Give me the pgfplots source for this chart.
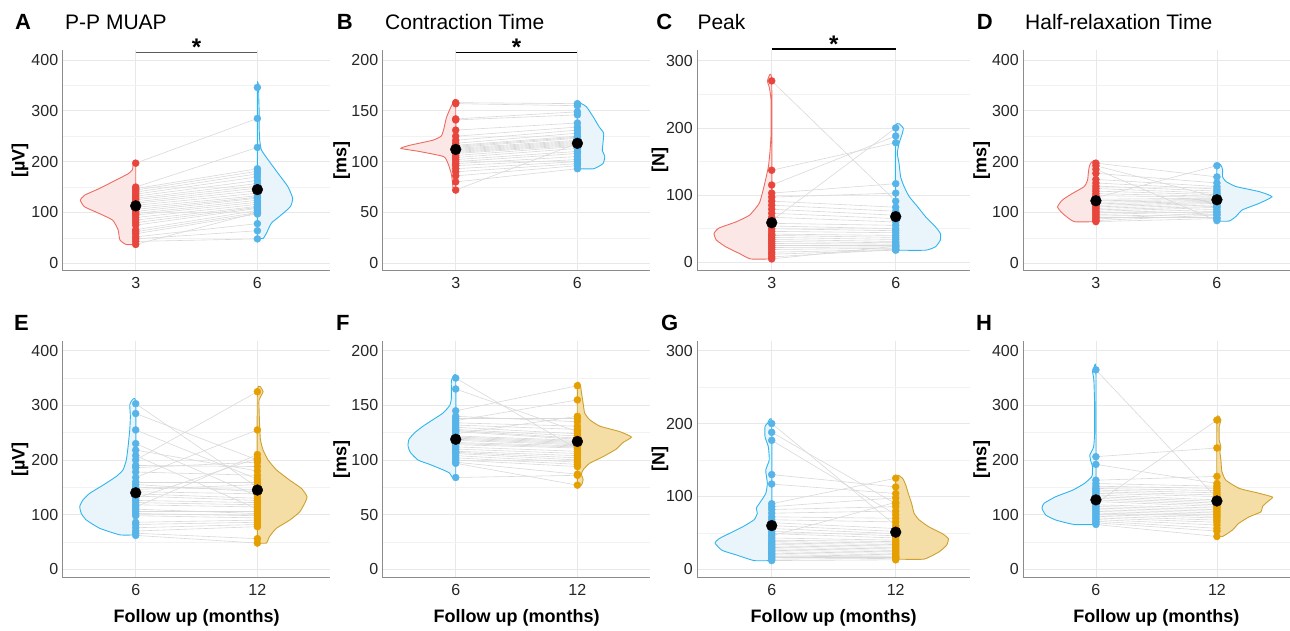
\documentclass[border=0pt]{standalone}
\usepackage{fontspec}
\setmainfont{Liberation Sans}
\usepackage{pgfplots}
\pgfplotsset{compat=1.18}
\usepackage{pgfplotstable}

\definecolor{cred}{HTML}{E8453C}
\definecolor{cblue}{HTML}{56B4E9}
\definecolor{corange}{HTML}{E69F00}
\definecolor{redline}{HTML}{EE6B61}
\definecolor{blueline}{HTML}{2FB5EE}
\definecolor{orangeline}{HTML}{CDA12E}
\definecolor{redfill}{HTML}{FBE8E6}
\definecolor{bluefill}{HTML}{EAF4FB}
\definecolor{orangefill}{HTML}{F5DDA6}

\newcommand\tickf{\fontsize{16}{18}\selectfont}
\newcommand\labf{\bfseries\fontsize{18}{20}\selectfont}
\newcommand\ttlf{\fontsize{21}{24}\selectfont}
\newcommand\letf{\bfseries\fontsize{22}{24}\selectfont}

\tikzset{
 pletter/.style={anchor=base west, font=\letf, inner sep=0pt},
 pttl/.style={anchor=base west, font=\ttlf, inner sep=0pt},
 sigstar/.style={anchor=base, font=\bfseries\fontsize{24}{24}\selectfont, inner sep=0pt},
}

\pgfplotsset{
 panel/.style={
  scale only axis, clip=false, enlargelimits=false,
  xmin=0.4, xmax=2.6, xtick={1,2},
  axis x line*=bottom, axis y line*=left,
  axis line style={-, draw=black!45, line width=0.8pt},
  major tick length=0pt, minor tick length=0pt,
  grid=both, minor y tick num=1,
  major grid style={draw=black!9, line width=0.7pt},
  minor grid style={draw=black!5, line width=0.6pt},
  tick label style={font=\tickf, text=black!85},
  /pgf/number format/assume math mode=true,
  yticklabel style={xshift=-1pt},
  xticklabel style={yshift=-3pt},
  ylabel style={anchor=center, font=\labf},
  xlabel style={at={(axis description cs:0.5,-0.1675)}, anchor=center, font=\labf},
 },
 toprow/.style={height=220.7pt},
 botrow/.style={height=237pt},
 vred/.style={draw=redline, fill=redfill, line width=0.9pt, smooth, tension=0.3},
 vblue/.style={draw=blueline, fill=bluefill, line width=0.9pt, smooth, tension=0.3},
 vorange/.style={draw=orangeline, fill=orangefill, line width=0.9pt, smooth, tension=0.3},
 pairline/.style={draw=black!15, line width=0.6pt, -},
 pred/.style={only marks, mark=*, mark size=3.5pt, cred, mark options={draw=cred, fill=cred}},
 pblue/.style={only marks, mark=*, mark size=3.5pt, cblue, mark options={draw=cblue, fill=cblue}},
 porange/.style={only marks, mark=*, mark size=3.5pt, corange, mark options={draw=corange, fill=corange}},
 meanpt/.style={only marks, black, mark=*, mark size=5.4pt, error bars/.cd, y dir=both, y explicit, error bar style={line width=2pt, black}, error mark=none},
}

% paired data: a = first follow up, b = second follow up
\pgfplotstableread[row sep=\\]{a b\\
197 285\\ 150 228\\ 147 186\\ 144 181\\ 140 176\\ 136 170\\ 132 163\\ 128 157\\ 125 152\\ 121 148\\
118 143\\ 114 138\\ 110 133\\ 106 130\\ 102 128\\ 98 124\\ 95 120\\ 90 116\\ 85 112\\ 80 110\\
75 108\\ 66 104\\ 62 100\\ 58 97\\ 52 78\\ 48 64\\ 43 48\\ 37 100\\}\tA
\pgfplotstableread[row sep=\\]{a b\\
158 157\\ 157 155\\ 142 149\\ 141 146\\ 131 138\\ 125 134\\ 121 131\\ 118 128\\ 116 125\\ 115 124\\
114 123\\ 113 121\\ 112 120\\ 111 119\\ 110 118\\ 109 117\\ 108 116\\ 106 115\\ 104 113\\ 102 110\\
100 108\\ 98 105\\ 96 102\\ 93 100\\ 90 98\\ 86 96\\ 80 93\\ 72 118\\}\tB
\pgfplotstableread[row sep=\\]{a b\\
270 91\\ 137 178\\ 115 188\\ 103 117\\ 97 103\\ 91 82\\ 85 76\\ 79 70\\ 73 65\\ 67 60\\
62 200\\ 58 55\\ 54 50\\ 50 47\\ 46 44\\ 42 40\\ 40 37\\ 37 34\\ 34 31\\ 31 29\\
28 27\\ 25 25\\ 22 23\\ 19 21\\ 15 19\\ 12 18\\ 8 19\\ 5 24\\}\tC
\pgfplotstableread[row sep=\\]{a b\\
197 170\\ 192 130\\ 185 84\\ 177 158\\ 165 151\\ 158 146\\ 152 142\\ 147 138\\ 142 135\\ 137 132\\
133 130\\ 129 192\\ 126 128\\ 123 126\\ 120 124\\ 117 122\\ 114 120\\ 111 118\\ 108 115\\ 105 112\\
102 110\\ 99 106\\ 96 102\\ 93 96\\ 90 90\\ 87 100\\ 84 95\\ 82 88\\}\tD
\pgfplotstableread[row sep=\\]{a b\\
303 150\\ 285 200\\ 255 165\\ 230 134\\ 218 180\\ 208 110\\ 200 325\\ 190 188\\ 186 196\\ 178 172\\
168 255\\ 160 160\\ 155 142\\ 150 146\\ 146 155\\ 142 138\\ 138 130\\ 134 126\\ 130 203\\ 126 122\\
122 118\\ 118 114\\ 114 210\\ 110 102\\ 106 106\\ 102 98\\ 98 94\\ 86 90\\ 82 86\\ 76 82\\
70 78\\ 66 56\\ 62 48\\}\tE
\pgfplotstableread[row sep=\\]{a b\\
175 110\\ 165 126\\ 145 168\\ 138 138\\ 136 155\\ 134 131\\ 132 128\\ 130 124\\ 128 122\\ 127 120\\
126 119\\ 124 140\\ 122 118\\ 121 117\\ 120 116\\ 119 115\\ 118 114\\ 116 113\\ 115 112\\ 114 111\\
112 108\\ 110 106\\ 108 104\\ 107 102\\ 106 100\\ 104 98\\ 102 96\\ 100 94\\ 98 87\\ 97 77\\
84 86\\ 140 135\\}\tF
\pgfplotstableread[row sep=\\]{a b\\
200 60\\ 188 90\\ 177 75\\ 130 113\\ 117 104\\ 90 125\\ 86 98\\ 82 86\\ 77 80\\ 72 70\\
68 65\\ 64 56\\ 60 52\\ 56 49\\ 52 46\\ 49 43\\ 46 92\\ 43 40\\ 40 38\\ 38 36\\
36 34\\ 34 32\\ 32 30\\ 30 28\\ 28 26\\ 26 24\\ 24 22\\ 22 20\\ 20 18\\ 18 17\\
16 16\\ 14 15\\ 12 13\\}\tG
\pgfplotstableread[row sep=\\]{a b\\
365 130\\ 206 222\\ 192 157\\ 163 170\\ 157 152\\ 152 148\\ 148 144\\ 145 140\\ 142 136\\ 139 133\\
136 127\\ 133 124\\ 130 121\\ 127 118\\ 124 115\\ 121 273\\ 118 112\\ 115 109\\ 112 106\\ 109 103\\
106 100\\ 103 97\\ 100 94\\ 97 90\\ 94 86\\ 91 81\\ 88 75\\ 85 70\\ 82 60\\}\tH

\begin{document}
\begin{tikzpicture}
\useasboundingbox (0,0) rectangle (1290pt,631pt);

% ---------------- A ----------------
\begin{axis}[panel, toprow, width=267.7pt, at={(62.7pt,360.3pt)}, anchor=south west,
  ymin=-14.6, ymax=419.7, ytick={0,100,200,300,400}, xticklabels={3,6},
  ylabel={[µV]}, ylabel style={at={(axis description cs:-0.16,0.5)}}]
\addplot[vred] table[row sep=\\, x expr=1-\thisrow{w}, y=v] {v w\\
37 0\\ 37 0.08\\ 46 0.13\\ 66 0.145\\ 85 0.19\\ 98 0.30\\ 111 0.42\\ 124 0.455\\ 134 0.42\\ 147 0.30\\
164 0.16\\ 176 0.063\\ 184 0.027\\ 197 0.02\\ 197 0\\ 37 0\\};
\addplot[vblue] table[row sep=\\, x expr=2+\thisrow{w}, y=v] {v w\\
49 0\\ 49 0.047\\ 59 0.074\\ 79 0.115\\ 92 0.18\\ 111 0.27\\ 128 0.29\\ 151 0.25\\ 177 0.17\\ 203 0.09\\
223 0.033\\ 243 0.019\\ 269 0.014\\ 302 0.014\\ 328 0.011\\ 346 0.01\\ 346 0\\ 49 0\\};
\addplot[pairline, quiver={u=1, v=\thisrow{b}-\thisrow{a}}] table[x expr=1, y=a] {\tA};
\addplot[pred] table[x expr=1, y=a] {\tA};
\addplot[pblue] table[x expr=2, y=b] {\tA};
\addplot[pblue] coordinates {(2,346)};
\addplot[meanpt] coordinates {(1,113) +- (0,14)};
\addplot[meanpt] coordinates {(2,145) +- (0,18)};
\addplot[draw=black!65, line width=1.1pt] coordinates {(1,415) (2,415)};
\node[sigstar] at (axis cs:1.5,408) {*};
\node[pletter] at (axis description cs:-0.178,1.0906) {A};
\node[pttl] at (axis description cs:0.0086,1.0906) {P-P MUAP};
\end{axis}

% ---------------- B ----------------
\begin{axis}[panel, toprow, width=267.7pt, at={(382.7pt,360.3pt)}, anchor=south west,
  ymin=-7.3, ymax=209.8, ytick={0,50,100,150,200}, xticklabels={3,6},
  ylabel={[ms]}, ylabel style={at={(axis description cs:-0.153,0.5)}}]
\addplot[vred] table[row sep=\\, x expr=1-\thisrow{w}, y=v] {v w\\
72 0\\ 72 0.02\\ 80 0.027\\ 88 0.036\\ 98 0.063\\ 105 0.10\\ 110 0.30\\ 113 0.45\\ 116 0.38\\ 121 0.19\\
125 0.12\\ 131 0.10\\ 143 0.077\\ 151 0.05\\ 158 0.02\\ 158 0\\ 72 0\\};
\addplot[vblue] table[row sep=\\, x expr=2+\thisrow{w}, y=v] {v w\\
93 0\\ 93 0.134\\ 98 0.21\\ 105 0.225\\ 111 0.205\\ 118 0.21\\ 128 0.216\\ 134 0.18\\ 144 0.13\\ 154 0.074\\
157 0.033\\ 157 0\\ 93 0\\};
\addplot[pairline, quiver={u=1, v=\thisrow{b}-\thisrow{a}}] table[x expr=1, y=a] {\tB};
\addplot[pred] table[x expr=1, y=a] {\tB};
\addplot[pblue] table[x expr=2, y=b] {\tB};
\addplot[meanpt] coordinates {(1,112) +- (0,6)};
\addplot[meanpt] coordinates {(2,118) +- (0,5)};
\addplot[draw=black, line width=1.1pt] coordinates {(1,207.6) (2,207.6)};
\node[sigstar] at (axis cs:1.5,204) {*};
\node[pletter] at (axis description cs:-0.172,1.0906) {B};
\node[pttl] at (axis description cs:0.0086,1.0906) {Contraction Time};
\end{axis}

% ---------------- C ----------------
\begin{axis}[panel, toprow, width=272.8pt, at={(697.3pt,360.3pt)}, anchor=south west,
  ymin=-12.5, ymax=316, ytick={0,100,200,300}, xticklabels={3,6},
  ylabel={[N]}, ylabel style={at={(axis description cs:-0.137,0.5)}}]
\addplot[vred] table[row sep=\\, x expr=1-\thisrow{w}, y=v] {v w\\
5 0\\ 5 0.17\\ 13 0.26\\ 23 0.37\\ 33 0.446\\ 43 0.465\\ 51 0.425\\ 60 0.29\\ 70 0.18\\ 88 0.10\\
113 0.062\\ 142 0.027\\ 167 0.013\\ 192 0.005\\ 241 0.005\\ 261 0.02\\ 270 0.035\\ 270 0\\ 5 0\\};
\addplot[vblue] table[row sep=\\, x expr=2+\thisrow{w}, y=v] {v w\\
18 0\\ 18 0.24\\ 23 0.32\\ 33 0.36\\ 43 0.36\\ 53 0.32\\ 68 0.24\\ 83 0.175\\ 98 0.108\\ 113 0.067\\
127 0.04\\ 147 0.027\\ 162 0.013\\ 177 0.027\\ 192 0.054\\ 200 0.06\\ 200 0\\ 18 0\\};
\addplot[pairline, quiver={u=1, v=\thisrow{b}-\thisrow{a}}] table[x expr=1, y=a] {\tC};
\addplot[pred] table[x expr=1, y=a] {\tC};
\addplot[pblue] table[x expr=2, y=b] {\tC};
\addplot[meanpt] coordinates {(1,59) +- (0,19)};
\addplot[meanpt] coordinates {(2,68) +- (0,18)};
\addplot[draw=black, line width=1.1pt] coordinates {(1,317.4) (2,317.4)};
\node[sigstar] at (axis cs:1.5,312.5) {*};
\node[pletter] at (axis description cs:-0.151,1.0906) {C};
\node[pttl] at (axis description cs:0,1.0906) {Peak};
\end{axis}

% ---------------- D ----------------
\begin{axis}[panel, toprow, width=266.2pt, at={(1023.3pt,360.3pt)}, anchor=south west,
  ymin=-14.6, ymax=419.7, ytick={0,100,200,300,400}, xticklabels={3,6},
  ylabel={[ms]}, ylabel style={at={(axis description cs:-0.156,0.5)}}]
\addplot[vred] table[row sep=\\, x expr=1-\thisrow{w}, y=v] {v w\\
82 0\\ 82 0.18\\ 98 0.275\\ 111 0.317\\ 125 0.275\\ 138 0.19\\ 151 0.096\\ 164 0.069\\ 177 0.063\\ 190 0.055\\
198 0.04\\ 198 0\\ 82 0\\};
\addplot[vblue] table[row sep=\\, x expr=2+\thisrow{w}, y=v] {v w\\
83 0\\ 83 0.10\\ 92 0.157\\ 105 0.21\\ 118 0.35\\ 131 0.455\\ 141 0.35\\ 151 0.157\\ 161 0.074\\ 170 0.047\\
184 0.047\\ 193 0.033\\ 193 0\\ 83 0\\};
\addplot[pairline, quiver={u=1, v=\thisrow{b}-\thisrow{a}}] table[x expr=1, y=a] {\tD};
\addplot[pred] table[x expr=1, y=a] {\tD};
\addplot[pblue] table[x expr=2, y=b] {\tD};
\addplot[meanpt] coordinates {(1,123) +- (0,7)};
\addplot[meanpt] coordinates {(2,125) +- (0,7)};
\node[pletter] at (axis description cs:-0.175,1.0906) {D};
\node[pttl] at (axis description cs:0.0064,1.0906) {Half-relaxation Time};
\end{axis}

% ---------------- E ----------------
\begin{axis}[panel, botrow, width=267.7pt, at={(62.7pt,53.3pt)}, anchor=south west,
  ymin=-15.4, ymax=418.3, ytick={0,100,200,300,400}, xticklabels={6,12},
  xlabel={Follow up (months)},
  ylabel={[µV]}, ylabel style={at={(axis description cs:-0.16,0.5)}}]
\addplot[vblue] table[row sep=\\, x expr=1-\thisrow{w}, y=v] {v w\\
63 0\\ 63 0.13\\ 75 0.296\\ 90 0.405\\ 102 0.447\\ 115 0.46\\ 127 0.433\\ 139 0.378\\ 154 0.268\\ 170 0.159\\
182 0.104\\ 200 0.077\\ 224 0.063\\ 255 0.049\\ 279 0.044\\ 300 0.049\\ 304 0.045\\ 304 0\\ 63 0\\};
\addplot[vorange] table[row sep=\\, x expr=2+\thisrow{w}, y=v] {v w\\
48 0\\ 48 0.074\\ 60 0.10\\ 75 0.156\\ 90 0.266\\ 105 0.348\\ 121 0.389\\ 133 0.408\\ 148 0.362\\ 163 0.266\\
182 0.156\\ 200 0.088\\ 218 0.047\\ 237 0.025\\ 261 0.019\\ 291 0.014\\ 310 0.014\\ 325 0.047\\ 325 0\\ 48 0\\};
\addplot[pairline, quiver={u=1, v=\thisrow{b}-\thisrow{a}}] table[x expr=1, y=a] {\tE};
\addplot[pblue] table[x expr=1, y=a] {\tE};
\addplot[porange] table[x expr=2, y=b] {\tE};
\addplot[meanpt] coordinates {(1,140) +- (0,14)};
\addplot[meanpt] coordinates {(2,145) +- (0,17)};
\node[pletter] at (axis description cs:-0.182,1.045) {E};
\end{axis}

% ---------------- F ----------------
\begin{axis}[panel, botrow, width=267.7pt, at={(382.7pt,53.3pt)}, anchor=south west,
  ymin=-7.7, ymax=209.2, ytick={0,50,100,150,200}, xticklabels={6,12},
  xlabel={Follow up (months)},
  ylabel={[ms]}, ylabel style={at={(axis description cs:-0.153,0.5)}}]
\addplot[vblue] table[row sep=\\, x expr=1-\thisrow{w}, y=v] {v w\\
84 0\\ 84 0.027\\ 88 0.05\\ 91 0.104\\ 96 0.214\\ 100 0.31\\ 107 0.373\\ 113 0.392\\ 119 0.384\\ 125 0.337\\
131 0.268\\ 137 0.186\\ 143 0.104\\ 150 0.049\\ 156 0.036\\ 165 0.036\\ 172 0.036\\ 175 0.027\\ 175 0\\ 84 0\\};
\addplot[vorange] table[row sep=\\, x expr=2+\thisrow{w}, y=v] {v w\\
77 0\\ 77 0.033\\ 82 0.047\\ 87 0.033\\ 91 0.047\\ 97 0.10\\ 103 0.21\\ 110 0.32\\ 116 0.375\\ 121 0.444\\
126 0.348\\ 131 0.184\\ 137 0.10\\ 143 0.06\\ 152 0.047\\ 162 0.033\\ 168 0.025\\ 168 0\\ 77 0\\};
\addplot[pairline, quiver={u=1, v=\thisrow{b}-\thisrow{a}}] table[x expr=1, y=a] {\tF};
\addplot[pblue] table[x expr=1, y=a] {\tF};
\addplot[porange] table[x expr=2, y=b] {\tF};
\addplot[meanpt] coordinates {(1,119) +- (0,5)};
\addplot[meanpt] coordinates {(2,117) +- (0,5)};
\node[pletter] at (axis description cs:-0.175,1.045) {F};
\end{axis}

% ---------------- G ----------------
\begin{axis}[panel, botrow, width=272.8pt, at={(697.3pt,53.3pt)}, anchor=south west,
  ymin=-11.5, ymax=313.7, ytick={0,100,200,300}, xticklabels={6,12},
  xlabel={Follow up (months)},
  ylabel={[N]}, ylabel style={at={(axis description cs:-0.137,0.5)}}]
\addplot[vblue] table[row sep=\\, x expr=1-\thisrow{w}, y=v] {v w\\
12 0\\ 12 0.142\\ 20 0.29\\ 26 0.40\\ 36 0.457\\ 42 0.425\\ 49 0.344\\ 58 0.237\\ 68 0.142\\ 77 0.116\\
84 0.124\\ 93 0.089\\ 104 0.048\\ 118 0.035\\ 136 0.048\\ 150 0.02\\ 168 0.027\\ 182 0.054\\ 196 0.054\\ 200 0.035\\
200 0\\ 12 0\\};
\addplot[vorange] table[row sep=\\, x expr=2+\thisrow{w}, y=v] {v w\\
14 0\\ 14 0.228\\ 24 0.35\\ 33 0.41\\ 42 0.425\\ 49 0.376\\ 58 0.27\\ 68 0.188\\ 77 0.148\\ 90 0.129\\
104 0.102\\ 116 0.08\\ 125 0.054\\ 125 0\\ 14 0\\};
\addplot[pairline, quiver={u=1, v=\thisrow{b}-\thisrow{a}}] table[x expr=1, y=a] {\tG};
\addplot[pblue] table[x expr=1, y=a] {\tG};
\addplot[porange] table[x expr=2, y=b] {\tG};
\addplot[meanpt] coordinates {(1,60) +- (0,13)};
\addplot[meanpt] coordinates {(2,51) +- (0,9)};
\node[pletter] at (axis description cs:-0.133,1.045) {G};
\end{axis}

% ---------------- H ----------------
\begin{axis}[panel, botrow, width=266.2pt, at={(1023.3pt,53.3pt)}, anchor=south west,
  ymin=-15.4, ymax=418.3, ytick={0,100,200,300,400}, xticklabels={6,12},
  xlabel={Follow up (months)},
  ylabel={[ms]}, ylabel style={at={(axis description cs:-0.156,0.5)}}]
\addplot[vblue] table[row sep=\\, x expr=1-\thisrow{w}, y=v] {v w\\
82 0\\ 82 0.18\\ 90 0.33\\ 99 0.413\\ 112 0.446\\ 121 0.427\\ 133 0.33\\ 145 0.19\\ 157 0.096\\ 170 0.033\\
188 0.028\\ 197 0.041\\ 209 0.05\\ 224 0.019\\ 249 0.011\\ 304 0.011\\ 346 0.017\\ 362 0.028\\ 365 0.02\\ 365 0\\ 82 0\\};
\addplot[vorange] table[row sep=\\, x expr=2+\thisrow{w}, y=v] {v w\\
60 0\\ 60 0.047\\ 72 0.13\\ 84 0.18\\ 96 0.267\\ 105 0.364\\ 115 0.377\\ 124 0.42\\ 132 0.46\\ 139 0.35\\
148 0.185\\ 163 0.074\\ 179 0.041\\ 200 0.033\\ 215 0.025\\ 224 0.033\\ 237 0.019\\ 261 0.019\\ 273 0.033\\ 273 0\\ 60 0\\};
\addplot[pairline, quiver={u=1, v=\thisrow{b}-\thisrow{a}}] table[x expr=1, y=a] {\tH};
\addplot[pblue] table[x expr=1, y=a] {\tH};
\addplot[porange] table[x expr=2, y=b] {\tH};
\addplot[meanpt] coordinates {(1,127) +- (0,14)};
\addplot[meanpt] coordinates {(2,125) +- (0,12)};
\node[pletter] at (axis description cs:-0.178,1.045) {H};
\end{axis}
\end{tikzpicture}
\end{document}
